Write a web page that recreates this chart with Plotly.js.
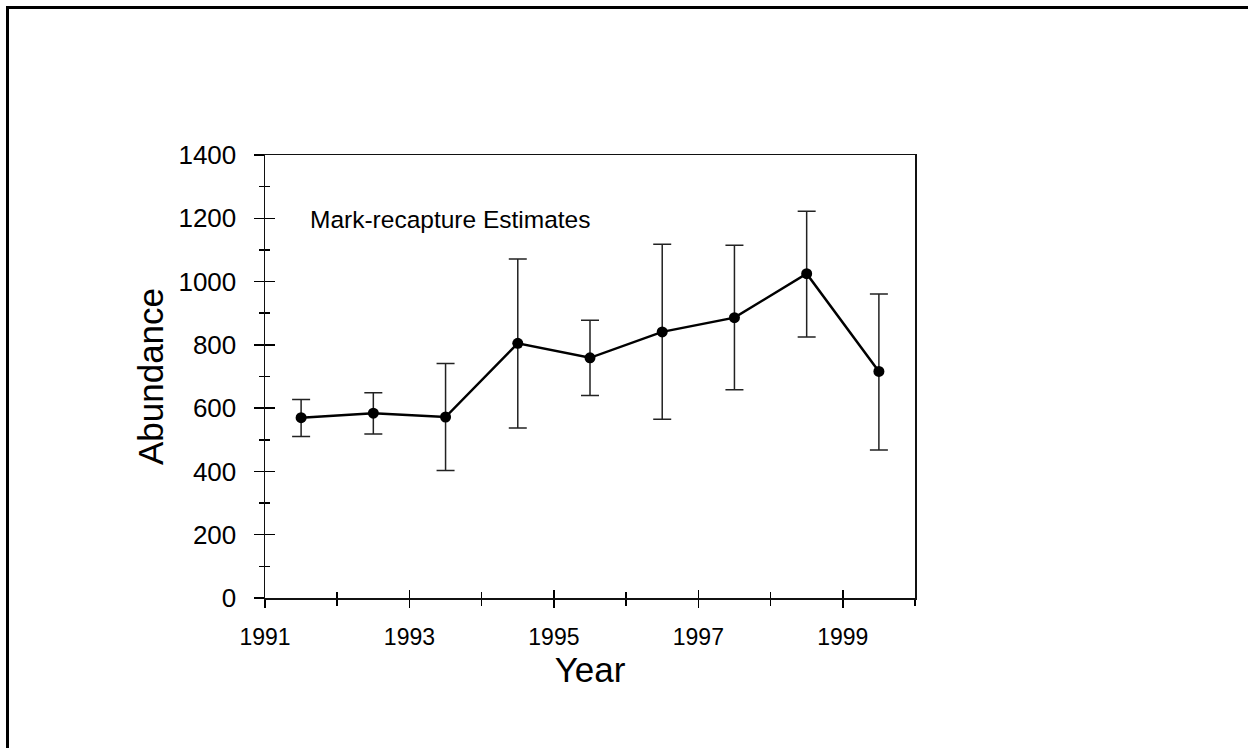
<!DOCTYPE html>
<html>
<head>
<meta charset="utf-8">
<script src="https://cdn.plot.ly/plotly-3.0.1.min.js"></script>
<style>
html,body{margin:0;padding:0;background:#fff;overflow:hidden;}
#frame{position:absolute;left:6px;top:6px;width:1242px;height:742px;border-top:3px solid #000;border-left:3px solid #000;box-sizing:border-box;pointer-events:none;z-index:5;}
#chart{position:absolute;left:0;top:0;width:1248px;height:748px;}
</style>
</head>
<body>
<div id="chart"></div>
<div id="frame"></div>
<script>
// Data
const years = [1991.5, 1992.5, 1993.5, 1994.5, 1995.5, 1996.5, 1997.5, 1998.5, 1999.5];
const abundance = [570, 584, 572, 805, 759, 841, 886, 1025, 716];
const upperCI = [627, 649, 741, 1071, 878, 1118, 1115, 1222, 961];
const lowerCI = [510, 518, 403, 537, 640, 565, 658, 825, 468];
const xTickVals = [1991, 1993, 1995, 1997, 1999];
const xTickText = ['1991', '1993', '1995', '1997', '1999'];
const yTickVals = [0, 200, 400, 600, 800, 1000, 1200, 1400];

const errPlus = upperCI.map((u, i) => u - abundance[i]);
const errMinus = abundance.map((a, i) => a - lowerCI[i]);

const font = 'Liberation Sans, Arial, Helvetica, sans-serif';

const traces = [
  {
    x: years, y: abundance, type: 'scatter', mode: 'lines+markers',
    line: {color: '#000', width: 2.5},
    marker: {color: '#000', size: 11, symbol: 'circle'},
    error_y: {type: 'data', symmetric: false, array: errPlus, arrayminus: errMinus,
              color: '#222', thickness: 1.5, width: 9},
    hoverinfo: 'x+y', showlegend: false
  },
  {x: [], y: [], xaxis: 'x2', yaxis: 'y2', type: 'scatter', showlegend: false}
];

const layout = {
  width: 1248, height: 748,
  margin: {l: 265, r: 333, t: 155, b: 150, pad: 0},
  paper_bgcolor: '#fff', plot_bgcolor: '#fff',
  font: {family: font, color: '#000'},
  showlegend: false,
  xaxis: {
    range: [1991, 2000], showgrid: false, zeroline: false,
    showline: true, linecolor: '#111', linewidth: 1.5, mirror: true,
    tickmode: 'array', tickvals: xTickVals, ticktext: xTickText,
    ticks: 'outside', ticklen: 8, tickwidth: 1.5, tickcolor: '#000',
    minor: {dtick: 1, tick0: 1991, ticks: 'outside', ticklen: 6, tickwidth: 1.5, tickcolor: '#000', showgrid: false},
    tickfont: {size: 23, family: font, color: '#000'},
    ticklabelstandoff: 10,
    title: {text: 'Year', font: {size: 35, family: font, color: '#000'}, standoff: 0}
  },
  yaxis: {
    range: [0, 1400], showgrid: false, zeroline: false,
    showline: true, linecolor: '#111', linewidth: 1.5, mirror: true,
    tickmode: 'array', tickvals: yTickVals,
    ticks: 'outside', ticklen: 10, tickwidth: 1.5, tickcolor: '#000',
    minor: {dtick: 100, tick0: 0, ticks: 'outside', ticklen: 5, tickwidth: 1.5, tickcolor: '#000', showgrid: false},
    tickfont: {size: 26, family: font, color: '#000'},
    ticklabelstandoff: 12,
    title: {text: 'Abundance', font: {size: 35, family: font, color: '#000'}, standoff: 4}
  },
  xaxis2: {
    overlaying: 'x', anchor: 'y2', side: 'bottom', range: [1991, 2000],
    showgrid: false, zeroline: false, showline: false, showticklabels: false,
    tickmode: 'array', tickvals: xTickVals,
    ticks: 'inside', ticklen: 8, tickwidth: 1.5, tickcolor: '#000',
    minor: {dtick: 1, tick0: 1991, ticks: 'inside', ticklen: 6, tickwidth: 1.5, tickcolor: '#000', showgrid: false}
  },
  yaxis2: {
    overlaying: 'y', anchor: 'x2', side: 'left', range: [0, 1400],
    showgrid: false, zeroline: false, showline: false, showticklabels: false,
    tickmode: 'array', tickvals: yTickVals,
    ticks: 'inside', ticklen: 10, tickwidth: 1.5, tickcolor: '#000',
    minor: {dtick: 100, tick0: 0, ticks: 'inside', ticklen: 5, tickwidth: 1.5, tickcolor: '#000', showgrid: false}
  },
  annotations: [{
    text: 'Mark-recapture Estimates', xref: 'x', yref: 'y',
    x: 1991.6, y: 1195, xanchor: 'left', yanchor: 'middle', showarrow: false,
    font: {size: 24.5, family: font, color: '#000'}
  }]
};

Plotly.newPlot('chart', traces, layout, {displayModeBar: false, staticPlot: true});
</script>
</body>
</html>
